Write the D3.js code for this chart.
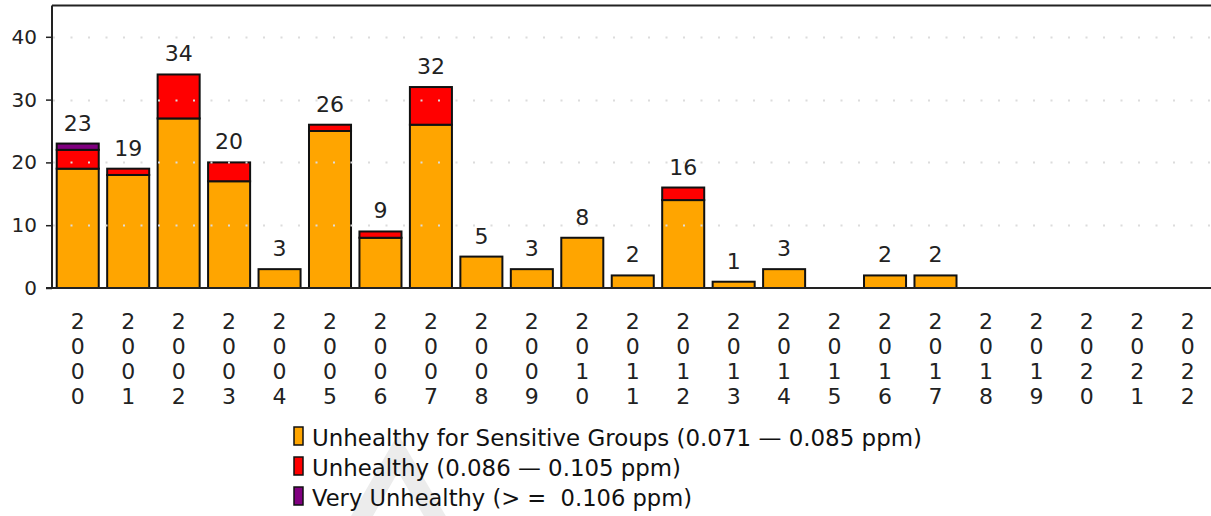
<!DOCTYPE html>
<html>
<head>
<meta charset="utf-8">
<script src="https://cdn.jsdelivr.net/npm/d3@7"></script>
<style>
  html, body { margin: 0; padding: 0; background: #fff; }
  svg { display: block; }
  .legend-text { white-space: pre; }
</style>
</head>
<body>
<svg id="chart" width="1211" height="516"></svg>
<script>
// Ozone exceedance days per year, by AQI category
const years = ["2000","2001","2002","2003","2004","2005","2006","2007","2008","2009","2010","2011",
               "2012","2013","2014","2015","2016","2017","2018","2019","2020","2021","2022"];
const sensitiveDays = [19,18,27,17,3,25,8,26,5,3,8,2,14,1,3,0,2,2,0,0,0,0,0];
const unhealthyDays = [3,1,7,3,0,1,1,6,0,0,0,0,2,0,0,0,0,0,0,0,0,0,0];
const veryUnhealthyDays = [1,0,0,0,0,0,0,0,0,0,0,0,0,0,0,0,0,0,0,0,0,0,0];
const yTicks = [0,10,20,30,40];

const seriesKeys = ["usg","unh","vunh"];
const seriesColors = { usg: "#FFA500", unh: "#FF0000", vunh: "#800080" };
const legendLabels = [
  "Unhealthy for Sensitive Groups (0.071 \u2014 0.085 ppm)",
  "Unhealthy (0.086 \u2014 0.105 ppm)",
  "Very Unhealthy (> =  0.106 ppm)"
];

const rows = years.map((y, i) => ({
  year: y, usg: sensitiveDays[i], unh: unhealthyDays[i], vunh: veryUnhealthyDays[i],
  total: sensitiveDays[i] + unhealthyDays[i] + veryUnhealthyDays[i]
}));

const svg = d3.select("#chart");
const plotLeft = 52, plotRight = 1213, plotTop = 5.4, plotBottom = 288;
const font = "'DejaVu Sans', Verdana, sans-serif";

const x = d3.scaleBand().domain(years).range([plotLeft + 0.5, plotRight])
  .paddingInner(0.167).paddingOuter(0.0835);
const y = d3.scaleLinear().domain([0, 45]).range([plotBottom, plotTop]);

// faint watermark chevron behind the legend
svg.append("path")
  .attr("d", d3.line()([[354, 530], [398, 453], [443, 530]]))
  .attr("fill", "none").attr("stroke", "#ececec").attr("stroke-width", 19)
  .attr("stroke-linejoin", "miter");

// stacked bars
const stack = d3.stack().keys(seriesKeys)(rows);
svg.append("g").selectAll("g").data(stack).join("g")
  .attr("fill", d => seriesColors[d.key])
  .selectAll("rect").data(d => d.filter(s => s[1] - s[0] > 0)).join("rect")
  .attr("x", d => x(d.data.year))
  .attr("width", x.bandwidth())
  .attr("y", d => y(d[1]))
  .attr("height", d => y(d[0]) - y(d[1]))
  .attr("stroke", "#111").attr("stroke-width", 2);

// dotted gridlines
svg.append("g").selectAll("line").data(yTicks.filter(t => t > 0)).join("line")
  .attr("x1", plotLeft).attr("x2", 1211)
  .attr("y1", d => Math.round(y(d)) + 0.5).attr("y2", d => Math.round(y(d)) + 0.5)
  .attr("stroke", "#dcdcdc").attr("stroke-width", 2)
  .attr("stroke-dasharray", "2,15.5").attr("stroke-dashoffset", -18.5);

// frame: top edge and left axis
svg.append("line").attr("x1", plotLeft).attr("x2", 1211).attr("y1", plotTop).attr("y2", plotTop)
  .attr("stroke", "#222").attr("stroke-width", 2);

const yAxis = d3.axisLeft(y).tickValues(yTicks).tickSize(6).tickPadding(9);
const gy = svg.append("g").attr("transform", `translate(${plotLeft},0)`).call(yAxis);
gy.select(".domain").attr("stroke", "#222").attr("stroke-width", 2)
  .attr("d", `M0,${plotTop}V${plotBottom}`);
gy.selectAll(".tick line").attr("stroke", "#222").attr("stroke-width", 1.5);
gy.selectAll(".tick text").attr("font-family", font).attr("font-size", 20)
  .attr("fill", "#222");

// bottom baseline
svg.append("line").attr("x1", plotLeft - 6).attr("x2", 1211).attr("y1", plotBottom).attr("y2", plotBottom)
  .attr("stroke", "#222").attr("stroke-width", 2);

// total labels above bars
svg.append("g").selectAll("text").data(rows.filter(r => r.total > 0)).join("text")
  .attr("x", d => x(d.year) + x.bandwidth() / 2)
  .attr("y", d => y(d.total) - 13)
  .attr("text-anchor", "middle")
  .attr("font-family", font).attr("font-size", 22).attr("fill", "#222")
  .text(d => d.total);

// vertical year labels, one character per line
const xl = svg.append("g").selectAll("text").data(years).join("text")
  .attr("text-anchor", "middle")
  .attr("font-family", font).attr("font-size", 22).attr("fill", "#222");
xl.each(function(yr) {
  const t = d3.select(this);
  yr.split("").forEach((ch, i) => {
    t.append("tspan")
      .attr("x", x(yr) + x.bandwidth() / 2)
      .attr("y", 329 + i * 25)
      .text(ch);
  });
});

// legend
const legendWidths = [610, 369, 380];
const lg = svg.append("g");
seriesKeys.forEach((k, i) => {
  const ry = 427 + i * 30;
  lg.append("rect").attr("x", 294).attr("y", ry).attr("width", 9).attr("height", 18)
    .attr("fill", seriesColors[k]).attr("stroke", "#111").attr("stroke-width", 1.5);
  lg.append("text").attr("class", "legend-text").attr("x", 312).attr("y", ry + 19)
    .attr("font-family", font).attr("font-size", 23).attr("fill", "#111")
    .attr("textLength", legendWidths[i]).attr("lengthAdjust", "spacingAndGlyphs")
    .text(legendLabels[i]);
});
</script>
</body>
</html>
